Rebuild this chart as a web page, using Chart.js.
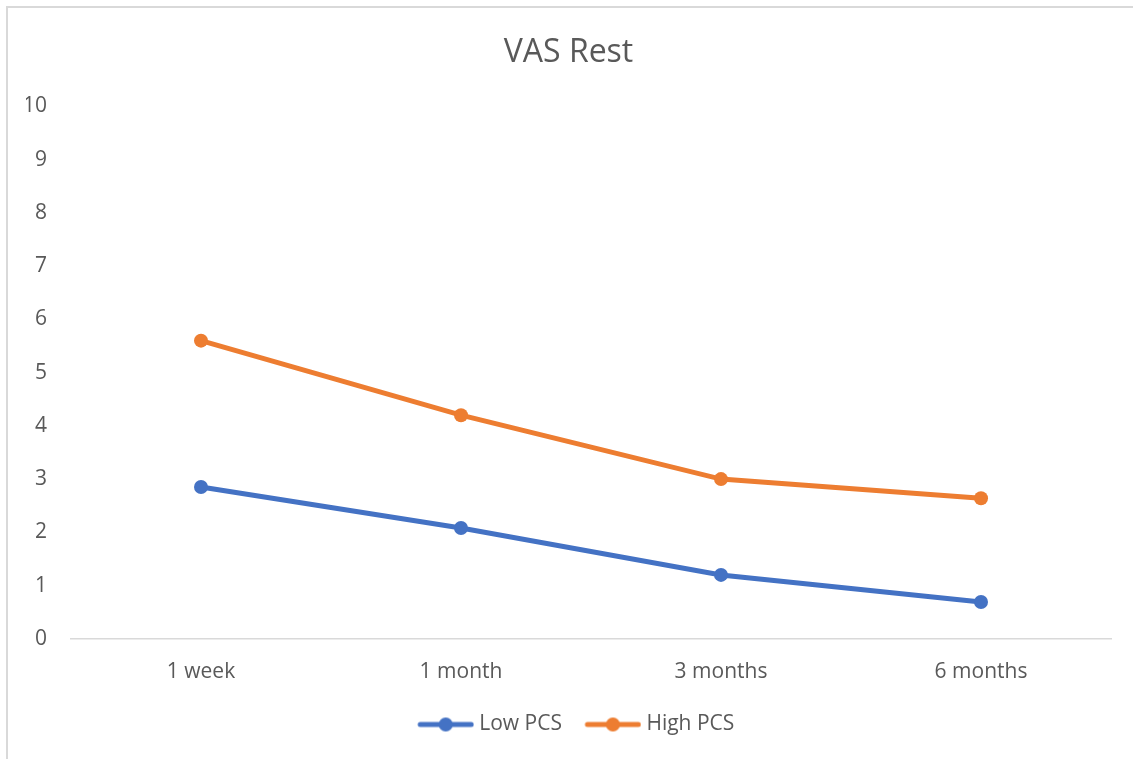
<!DOCTYPE html>
<html>
<head>
<meta charset="utf-8">
<script src="https://cdn.jsdelivr.net/npm/chart.js@4"></script>
<style>
  html, body { margin: 0; padding: 0; background: #fff; }
  #frame { position: absolute; left: 6px; top: 6px; width: 1127px; height: 753px;
           border-left: 2px solid #d9d9d9; border-top: 2px solid #d9d9d9; box-sizing: border-box; }
  #wrap { position: absolute; left: 0; top: 0; width: 1133px; height: 759px; }
</style>
</head>
<body>
<div id="frame"></div>
<div id="wrap"><canvas id="vasChart" width="1133" height="759"></canvas></div>
<script>
// data
const categories = ['1 week', '1 month', '3 months', '6 months'];
const lowPcs = [2.85, 2.08, 1.2, 0.69];
const highPcs = [5.6, 4.2, 3.0, 2.64];
const yTicks = [0, 1, 2, 3, 4, 5, 6, 7, 8, 9, 10];

const FONT = "'Open Sans', sans-serif";
const TEXT = '#595959';
const MARK_W = 66;

// legend marker: line with a dot, drawn at the right end of the image
function legendMarker(color) {
    const c = document.createElement('canvas');
    c.width = MARK_W + 11; c.height = 16;
    const g = c.getContext('2d');
    const x0 = c.width - 54, x1 = c.width - 3;
    g.strokeStyle = color; g.lineWidth = 5; g.lineCap = 'round';
    g.beginPath(); g.moveTo(x0, 8); g.lineTo(x1, 8); g.stroke();
    g.fillStyle = color;
    g.beginPath(); g.arc((x0 + x1) / 2, 8, 7, 0, Math.PI * 2); g.fill();
    return c;
}

new Chart(document.getElementById('vasChart'), {
    type: 'line',
    data: {
        labels: categories,
        datasets: [
            { label: 'Low PCS', data: lowPcs, borderColor: '#4472c4', backgroundColor: '#4472c4',
              borderWidth: 5, pointRadius: 7, pointHoverRadius: 7, pointBorderWidth: 0, tension: 0 },
            { label: 'High PCS', data: highPcs, borderColor: '#ed7d31', backgroundColor: '#ed7d31',
              borderWidth: 5, pointRadius: 7, pointHoverRadius: 7, pointBorderWidth: 0, tension: 0 }
        ]
    },
    options: {
        responsive: false,
        animation: false,
        layout: { padding: { left: 26, right: 22, top: 10, bottom: 14 } },
        plugins: {
            title: { display: true, text: 'VAS Rest', color: TEXT,
                     font: { family: FONT, size: 32, weight: 'normal' }, padding: { top: 24, bottom: 34 } },
            legend: {
                position: 'bottom',
                labels: {
                    color: TEXT, font: { family: FONT, size: 21 },
                    usePointStyle: true, pointStyleWidth: MARK_W, boxHeight: 16, padding: 8,
                    generateLabels: (chart) => chart.data.datasets.map((ds, i) => ({
                        text: ds.label, fontColor: TEXT, pointStyle: legendMarker(ds.borderColor),
                        datasetIndex: i, hidden: false, lineWidth: 0, strokeStyle: 'transparent',
                        fillStyle: 'transparent'
                    }))
                }
            },
            tooltip: { enabled: false }
        },
        scales: {
            x: {
                offset: true,
                grid: { display: false, drawTicks: false },
                border: { display: true, color: '#d9d9d9', width: 1.5 },
                ticks: { color: TEXT, font: { family: FONT, size: 21 }, padding: 21 }
            },
            y: {
                min: 0, max: 10,
                afterBuildTicks: (axis) => { axis.ticks = yTicks.map(v => ({ value: v })); },
                afterFit: (axis) => { axis.width = 45; },
                grid: { display: false, drawTicks: false },
                border: { display: false },
                ticks: { color: TEXT, font: { family: FONT, size: 21 }, padding: 24 }
            }
        }
    }
});
</script>
</body>
</html>
